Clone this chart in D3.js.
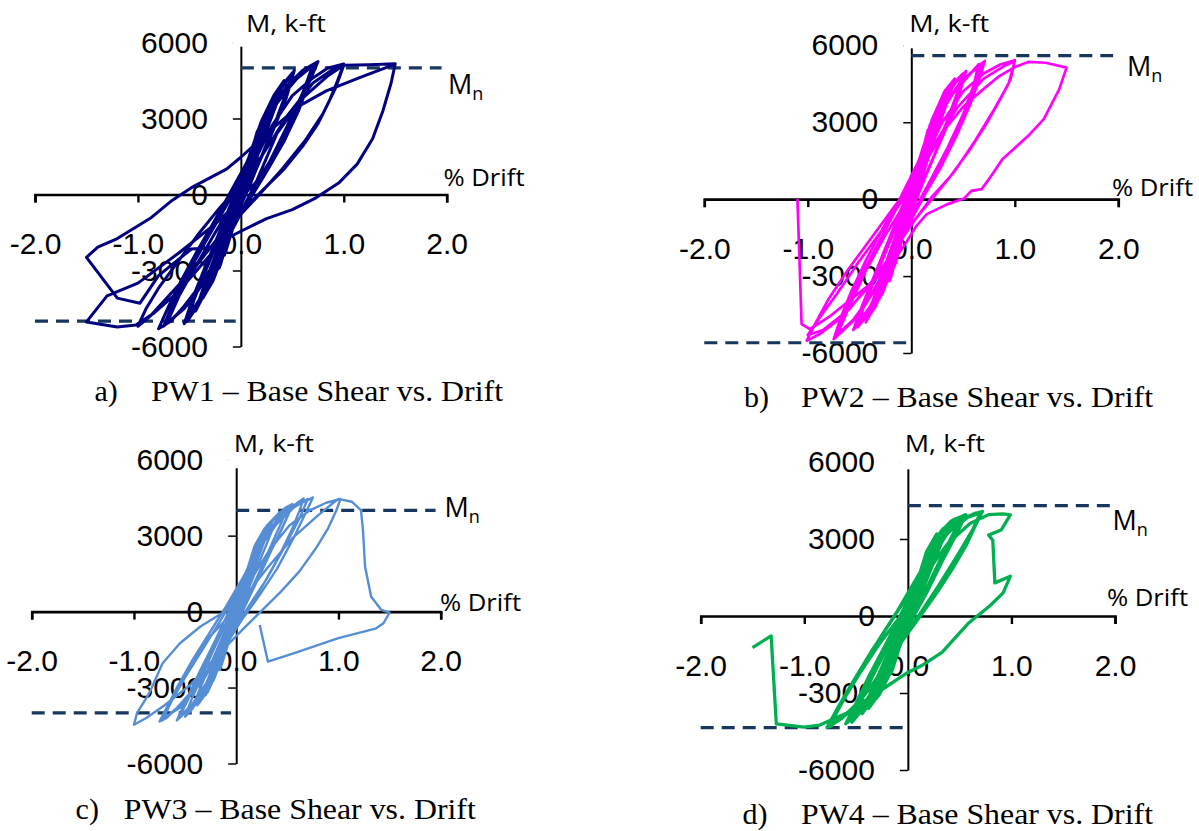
<!DOCTYPE html>
<html>
<head>
<meta charset="utf-8">
<script src="https://cdn.jsdelivr.net/npm/d3@7"></script>
<style>
  body { margin: 0; background: #fff; }
  .tick text { font-family: "Liberation Sans", Arial, sans-serif; font-size: 30px; fill: #000; }
  .lbl { font-family: "Open Sans", sans-serif; font-size: 24px; fill: #000; }
  .cap { font-family: "Liberation Serif", "Times New Roman", serif; font-size: 30px; fill: #000; }
</style>
</head>
<body>
<script>
var width = 1199,
    height = 831;

// ---- data ----
var driftTicks = [-2, -1, 0, 1, 2];
var momentTicks = [-6000, -3000, 0, 3000, 6000];

// nominal moment capacity lines [positive, negative], k-ft
var mnPW1 = [5000, -5000];
var mnPW2 = [5600, -5600];
var mnPW3 = [4000, -4000];
var mnPW4 = [4300, -4350];

var captionLetters = ["a)", "b)", "c)", "d)"];
var captionTexts = [
  "PW1 \u2013 Base Shear vs. Drift",
  "PW2 \u2013 Base Shear vs. Drift",
  "PW3 \u2013 Base Shear vs. Drift",
  "PW4 \u2013 Base Shear vs. Drift"
];

// hysteresis loops, [% drift, moment k-ft]
var pw1 = [
  // +-0.1
  [0,0],[0.05,900],[0.1,1600],[0.06,900],[0,-100],[-0.05,-900],[-0.1,-1600],[-0.06,-900],[0,100],[0.05,1000],[0.1,1700],[0.05,700],[-0.02,-300],[-0.1,-1500],[-0.05,-700],[0.02,300],
  // +-0.15
  [0.08,1300],[0.15,2300],[0.09,1200],[0.01,-100],[-0.08,-1300],[-0.15,-2300],[-0.08,-1200],[0.01,100],[0.09,1500],[0.16,2500],[0.1,1400],[0,-200],[-0.09,-1500],[-0.16,-2400],[-0.09,-1100],[0,100],
  // +-0.25
  [0.1,1600],[0.18,2500],[0.25,3200],[0.2,2300],[0.12,1200],[0.02,-100],[-0.08,-1100],[-0.17,-2300],[-0.25,-3200],[-0.2,-2400],[-0.12,-1300],[-0.02,0],
  [0.08,1200],[0.17,2500],[0.26,3300],[0.19,2100],[0.1,900],[-0.02,-400],[-0.12,-1700],[-0.26,-3300],[-0.18,-2100],[-0.08,-700],
  [0.04,700],[0.15,2200],[0.25,3200],[0.18,1900],[0.06,500],[-0.06,-900],[-0.16,-2200],[-0.25,-3100],[-0.16,-1800],[-0.04,-300],
  // +-0.2
  [0.06,1100],[0.13,2000],[0.2,2800],[0.15,2000],[0.07,900],[-0.03,-400],[-0.12,-1700],[-0.2,-2800],[-0.14,-1900],[-0.05,-600],[0.04,800],[0.12,1900],[0.21,2900],[0.13,1600],[0.03,200],[-0.07,-1100],[-0.21,-2900],[-0.12,-1500],[-0.02,-100],
  // +-0.35
  [0.12,1900],[0.24,3100],[0.35,4000],[0.28,3100],[0.18,1900],[0.05,400],[-0.08,-1300],[-0.22,-2900],[-0.36,-4000],[-0.28,-3000],[-0.16,-1700],[-0.03,-100],
  [0.1,1700],[0.22,3000],[0.34,3900],[0.25,2700],[0.12,1200],[-0.01,-400],[-0.14,-2000],[-0.27,-3400],[-0.37,-4100],[-0.26,-2700],[-0.12,-1100],[0.02,300],
  // +-0.4
  [0.08,1500],[0.2,2900],[0.32,3900],[0.42,4500],[0.34,3500],[0.22,2200],[0.1,800],[-0.04,-700],[-0.16,-2100],[-0.3,-3500],[-0.44,-4600],[-0.35,-3500],[-0.22,-2100],[-0.08,-600],[0.06,900],
  // +-0.5
  [0.05,800],[0.15,2200],[0.28,3500],[0.4,4300],[0.5,4800],[0.43,3900],[0.33,2800],[0.2,1500],[0.07,300],[-0.05,-900],[-0.15,-2100],[-0.3,-3500],[-0.42,-4400],[-0.52,-5000],[-0.45,-4100],[-0.33,-2900],[-0.2,-1600],[-0.07,-300],
  [0.05,900],[0.2,2600],[0.33,3800],[0.45,4500],[0.52,4900],[0.44,3800],[0.3,2400],[0.15,1000],[0.02,-200],[-0.12,-1700],[-0.28,-3300],[-0.42,-4300],[-0.55,-5100],[-0.46,-4000],[-0.32,-2600],[-0.18,-1200],[-0.05,100],
  [0.1,1600],[0.25,3200],[0.4,4300],[0.5,4700],[0.4,3500],[0.25,2000],[0.1,500],[-0.05,-900],[-0.2,-2500],[-0.38,-4000],[-0.52,-4900],[-0.42,-3700],[-0.28,-2300],[-0.12,-800],
  // +-0.75
  [0.02,500],[0.15,2000],[0.3,3300],[0.45,4300],[0.6,4900],[0.75,5250],[0.66,4400],[0.56,3300],[0.42,2100],[0.25,900],[0.1,-100],[-0.05,-1100],[-0.2,-2300],[-0.38,-3500],[-0.55,-4400],[-0.68,-5000],[-0.8,-5300],[-0.7,-4400],[-0.58,-3400],[-0.42,-2200],[-0.25,-1000],[-0.1,100],
  [0.05,1200],[0.2,2600],[0.38,3800],[0.55,4600],[0.72,5150],[0.64,4200],[0.52,3100],[0.36,1800],[0.18,500],[0.02,-600],[-0.15,-1900],[-0.35,-3400],[-0.55,-4500],[-0.75,-5200],[-0.65,-4200],[-0.5,-3000],[-0.32,-1700],[-0.15,-500],
  [0,600],[0.18,2300],[0.35,3600],[0.52,4500],[0.7,5100],[0.6,4000],[0.45,2700],[0.28,1300],[0.1,100],[-0.1,-1500],[-0.3,-3100],[-0.5,-4300],[-0.72,-5100],[-0.6,-4000],[-0.42,-2700],[-0.22,-1300],
  // +-1.0
  [-0.05,-200],[0.12,1200],[0.3,2700],[0.5,3900],[0.7,4600],[0.85,5000],[1.0,5150],[0.94,4500],[0.86,3700],[0.75,2800],[0.6,1900],[0.42,1000],[0.22,200],[0.02,-600],[-0.2,-1600],[-0.45,-2900],[-0.7,-4000],[-0.88,-4800],[-1.0,-5200],[-0.92,-4500],[-0.8,-3700],[-0.62,-2700],[-0.42,-1600],[-0.2,-500],
  [0,400],[0.2,1500],[0.45,3100],[0.7,4400],[0.9,4950],[1.0,5100],[0.92,4200],[0.8,3200],[0.62,2100],[0.4,1000],[0.18,0],[-0.05,-1000],[-0.3,-2400],[-0.6,-3800],[-0.85,-4700],[-1.02,-5150],
  // -1.5 then +1.5
  [-1.2,-5230],[-1.5,-5030],[-1.3,-4000],[-1.0,-3500],[-0.6,-2300],[-0.2,-1000],[0.15,500],[0.35,2400],[0.6,3800],[0.85,4700],[1.0,5100],[1.25,5120],[1.5,5160],
  [1.46,4400],[1.38,3300],[1.28,2200],[1.13,1200],[0.95,450],[0.73,-130],[0.5,-600],[0.25,-950],[0,-1450],[-0.31,-2100],[-0.48,-2150],[-0.8,-3200],[-0.98,-4290],[-1.2,-4090],[-1.5,-2480],
  [-1.39,-2080],[-1.2,-1740],[-0.88,-940],[-0.68,-270],[-0.48,270],[-0.14,1000],[0,1470],[0.33,2680],[0.56,3480],[0.83,4090],[1.16,4620],[1.5,5150]
];

var pw2 = [
  [0,0],[0.05,1000],[0.1,1700],[0.05,900],[-0.01,-100],[-0.06,-1000],[-0.1,-1700],[-0.05,-800],[0.01,200],[0.06,1100],[0.1,1800],[0.04,600],[-0.03,-500],[-0.1,-1600],[-0.04,-600],[0.03,400],
  [0.08,1400],[0.15,2500],[0.09,1400],[0.01,-100],[-0.08,-1400],[-0.15,-2500],[-0.08,-1300],[0.01,100],[0.09,1600],[0.16,2700],[0.1,1500],[0,-200],[-0.09,-1600],[-0.16,-2600],[-0.09,-1200],[0,100],
  [0.12,1900],[0.2,2900],[0.27,3600],[0.21,2700],[0.12,1500],[0.02,100],[-0.08,-1200],[-0.18,-2600],[-0.27,-3600],[-0.21,-2700],[-0.12,-1500],[-0.02,-100],
  [0.09,1500],[0.18,2900],[0.28,3700],[0.2,2500],[0.1,1100],[-0.02,-500],[-0.12,-1900],[-0.28,-3700],[-0.2,-2400],[-0.09,-900],
  [0.04,800],[0.16,2500],[0.27,3500],[0.18,2100],[0.06,500],[-0.06,-1100],[-0.17,-2500],[-0.27,-3500],[-0.17,-2000],[-0.04,-300],
  [0.06,1200],[0.13,2200],[0.2,3100],[0.15,2200],[0.07,1000],[-0.03,-400],[-0.12,-1900],[-0.2,-3100],[-0.14,-2100],[-0.05,-700],[0.04,900],[0.12,2100],[0.21,3200],[0.13,1800],[0.03,200],[-0.07,-1200],[-0.21,-3200],[-0.12,-1700],[-0.02,-100],
  [0.12,2000],[0.24,3400],[0.35,4300],[0.28,3400],[0.18,2100],[0.05,400],[-0.08,-1400],[-0.22,-3100],[-0.36,-4300],[-0.28,-3200],[-0.16,-1800],[-0.03,-100],
  [0.1,1800],[0.22,3200],[0.34,4200],[0.25,2900],[0.12,1300],[-0.01,-400],[-0.14,-2100],[-0.27,-3600],[-0.38,-4400],[-0.26,-2900],[-0.12,-1200],[0.02,300],
  [0.08,1600],[0.2,3100],[0.32,4200],[0.42,4700],[0.34,3700],[0.22,2300],[0.1,800],[-0.04,-800],[-0.16,-2300],[-0.3,-3800],[-0.44,-4800],[-0.35,-3700],[-0.22,-2200],[-0.08,-600],[0.06,1000],
  [0.06,1000],[0.16,2500],[0.28,3800],[0.4,4500],[0.5,4900],[0.44,4100],[0.34,3000],[0.22,1700],[0.08,400],[-0.05,-900],[-0.16,-2300],[-0.3,-3700],[-0.42,-4500],[-0.52,-5000],[-0.46,-4200],[-0.35,-3100],[-0.22,-1800],[-0.08,-400],
  [0.06,1100],[0.2,2800],[0.34,4100],[0.46,4700],[0.53,5000],[0.45,3900],[0.32,2600],[0.17,1200],[0.03,-100],[-0.12,-1700],[-0.28,-3400],[-0.43,-4500],[-0.56,-5100],[-0.47,-4100],[-0.33,-2700],[-0.19,-1300],[-0.05,100],
  [0.11,1800],[0.26,3400],[0.42,4500],[0.52,4900],[0.42,3700],[0.27,2200],[0.11,600],[-0.05,-1000],[-0.22,-2700],[-0.4,-4200],[-0.55,-5000],[-0.44,-3900],[-0.29,-2400],[-0.13,-900],
  [0.02,600],[0.16,2300],[0.32,3700],[0.48,4600],[0.6,5000],[0.71,5390],[0.66,4700],[0.57,3700],[0.44,2500],[0.28,1200],[0.12,100],[-0.04,-1100],[-0.22,-2500],[-0.4,-3800],[-0.56,-4700],[-0.68,-5200],[-0.75,-5460],[-0.68,-4600],[-0.58,-3600],[-0.44,-2400],[-0.27,-1100],[-0.1,100],
  [0.06,1400],[0.22,2900],[0.4,4100],[0.55,4800],[0.65,5260],[0.6,4400],[0.5,3300],[0.35,2000],[0.18,700],[0.02,-500],[-0.16,-2000],[-0.36,-3600],[-0.56,-4700],[-0.72,-5300],[-0.63,-4300],[-0.5,-3100],[-0.33,-1800],[-0.16,-500],
  [0,700],[0.18,2500],[0.36,3900],[0.54,4800],[0.68,5300],[0.6,4200],[0.46,2900],[0.3,1500],[0.12,200],[-0.08,-1400],[-0.3,-3200],[-0.52,-4600],[-0.72,-5350],[-0.6,-4200],[-0.44,-2800],[-0.25,-1400],
  [-0.05,-100],[0.12,1500],[0.3,3000],[0.5,4200],[0.7,4900],[0.86,5250],[1.0,5420],[0.96,4680],[0.86,3900],[0.72,2900],[0.56,1900],[0.38,900],[0.2,100],[0.02,-900],[-0.2,-2200],[-0.45,-3600],[-0.7,-4700],[-0.88,-5250],[-1.01,-5520],[-0.92,-4800],[-0.8,-3900],[-0.62,-2800],[-0.42,-1700],[-0.22,-600],
  [-0.02,500],[0.2,2000],[0.45,3600],[0.7,4700],[0.9,5200],[1.0,5380],[0.94,4500],[0.8,3500],[0.62,2300],[0.42,1100],[0.2,0],[-0.05,-1200],[-0.3,-2800],[-0.6,-4300],[-0.85,-5100],[-1.0,-5300],[-0.9,-4700],[-0.72,-3700],[-0.5,-2400],[-0.28,-1200],[-0.08,0],
  [0.12,1300],[0.3,2600],[0.5,3600],[0.7,4300],[0.85,4800],[1.0,5150],[1.13,5350],[1.3,5320],[1.5,5130],[1.43,4290],[1.28,3120],[1.13,2470],[0.88,1560],[0.75,780],[0.68,390],[0.58,325],[0.51,25],[0.35,-195],[0.15,-585],[0.05,-1040],[-0.05,-1690],[-0.18,-2470],[-0.38,-3250],[-0.58,-3900],[-0.78,-4550],[-0.98,-5070],[-1.06,-4870],[-1.1,0]
];

var pw3 = [
  [0,0],[0.05,800],[0.1,1500],[0.05,800],[-0.01,-100],[-0.06,-900],[-0.1,-1500],[-0.05,-700],[0.01,200],[0.06,1000],[0.1,1600],[0.04,500],[-0.03,-500],[-0.1,-1500],[-0.04,-500],[0.03,400],
  [0.08,1300],[0.15,2200],[0.09,1200],[0.01,-100],[-0.08,-1300],[-0.15,-2200],[-0.08,-1100],[0.01,100],[0.09,1400],[0.16,2300],[0.1,1300],[0,-200],[-0.09,-1400],[-0.16,-2300],[-0.09,-1100],[0,100],
  [0.12,1800],[0.2,2600],[0.27,3200],[0.21,2400],[0.12,1300],[0.02,0],[-0.08,-1100],[-0.18,-2300],[-0.28,-3200],[-0.21,-2400],[-0.12,-1300],[-0.02,0],
  [0.09,1400],[0.18,2600],[0.28,3300],[0.2,2200],[0.1,1000],[-0.02,-400],[-0.13,-1800],[-0.3,-3300],[-0.2,-2100],[-0.09,-800],
  [0.04,700],[0.16,2200],[0.27,3100],[0.18,1900],[0.06,400],[-0.06,-1000],[-0.18,-2300],[-0.3,-3200],[-0.18,-1800],[-0.04,-200],
  [0.06,1000],[0.13,1800],[0.2,2500],[0.15,1800],[0.07,800],[-0.03,-400],[-0.12,-1500],[-0.2,-2500],[-0.14,-1700],[-0.05,-500],[0.04,700],[0.12,1700],[0.21,2600],[0.13,1400],[0.03,200],[-0.07,-1000],[-0.21,-2600],[-0.12,-1300],[-0.02,-100],
  [0.12,1800],[0.24,2900],[0.35,3600],[0.28,2900],[0.18,1800],[0.05,400],[-0.08,-1200],[-0.22,-2700],[-0.36,-3600],[-0.28,-2800],[-0.16,-1600],[-0.03,-100],
  [0.1,1600],[0.22,2800],[0.34,3500],[0.25,2500],[0.12,1100],[-0.01,-400],[-0.14,-1900],[-0.27,-3100],[-0.38,-3700],[-0.26,-2500],[-0.12,-1000],[0.02,300],
  [0.08,1300],[0.2,2600],[0.32,3400],[0.42,3900],[0.34,3100],[0.22,1900],[0.1,700],[-0.04,-600],[-0.16,-1900],[-0.3,-3100],[-0.44,-3900],[-0.35,-3000],[-0.22,-1800],[-0.08,-500],[0.06,800],
  [0.06,900],[0.18,2400],[0.3,3400],[0.42,3900],[0.5,4120],[0.44,3500],[0.34,2600],[0.22,1500],[0.08,300],[-0.06,-900],[-0.18,-2100],[-0.32,-3200],[-0.44,-3900],[-0.5,-4150],[-0.44,-3500],[-0.34,-2600],[-0.22,-1500],[-0.08,-300],
  [0.06,1000],[0.22,2700],[0.36,3600],[0.48,4100],[0.55,4250],[0.46,3400],[0.33,2300],[0.18,1000],[0.03,-200],[-0.14,-1600],[-0.3,-2900],[-0.45,-3800],[-0.58,-4300],[-0.49,-3500],[-0.36,-2400],[-0.2,-1100],[-0.05,200],
  [0.12,1700],[0.28,3000],[0.45,3900],[0.55,4200],[0.44,3200],[0.28,1900],[0.12,500],[-0.05,-900],[-0.24,-2500],[-0.42,-3600],[-0.56,-4200],[-0.45,-3300],[-0.3,-2100],[-0.13,-700],
  [0.03,500],[0.18,2100],[0.35,3300],[0.5,4000],[0.6,4300],[0.66,4470],[0.62,4000],[0.54,3200],[0.42,2200],[0.27,1100],[0.12,100],[-0.05,-1000],[-0.23,-2100],[-0.42,-3100],[-0.58,-3800],[-0.68,-4200],[-0.75,-4340],[-0.68,-3800],[-0.58,-3000],[-0.44,-2000],[-0.27,-900],[-0.1,200],
  [0.06,1300],[0.24,2600],[0.42,3600],[0.58,4200],[0.7,4400],[0.75,4510],[0.68,3900],[0.56,2900],[0.4,1700],[0.22,600],[0.04,-400],[-0.16,-1600],[-0.38,-2900],[-0.58,-3800],[-0.72,-4300],[-0.64,-3600],[-0.5,-2600],[-0.33,-1500],[-0.16,-400],
  [0,700],[0.18,2200],[0.38,3400],[0.56,4100],[0.7,4450],[0.62,3700],[0.48,2600],[0.3,1300],[0.12,200],[-0.1,-1200],[-0.32,-2700],[-0.55,-3800],[-0.73,-4250],[-0.62,-3400],[-0.45,-2200],[-0.26,-1000],
  [-0.05,-100],[0.12,1100],[0.32,2400],[0.52,3400],[0.72,4000],[0.88,4300],[1.02,4450],[0.98,4000],[0.9,3300],[0.78,2500],[0.62,1600],[0.44,800],[0.24,0],[0.04,-800],[-0.2,-1800],[-0.45,-2900],[-0.7,-3700],[-0.88,-4200],[-1.0,-4470],
  [-0.97,-4010],[-0.85,-3220],[-0.72,-2040],[-0.55,-1250],[-0.35,-590],[-0.14,-65],[0.06,460],
  [0.3,1700],[0.55,2900],[0.8,3800],[0.95,4300],[1.0,4450],[1.13,4340],[1.22,4010],[1.24,3220],[1.26,1780],[1.32,590],[1.42,65],[1.5,-40],[1.44,-460],[1.37,-660],[1.0,-1050],[0.56,-1650],[0.31,-1975],[0.23,-525]
];

var pw4 = [
  [0,0],[0.05,800],[0.1,1400],[0.05,700],[-0.01,-100],[-0.06,-900],[-0.1,-1400],[-0.05,-700],[0.01,200],[0.06,900],[0.1,1500],[0.04,500],[-0.03,-500],[-0.1,-1400],[-0.04,-500],[0.03,400],
  [0.08,1200],[0.15,2100],[0.09,1100],[0.01,-100],[-0.08,-1200],[-0.15,-2100],[-0.08,-1100],[0.01,100],[0.09,1300],[0.16,2200],[0.1,1200],[0,-200],[-0.09,-1300],[-0.16,-2200],[-0.09,-1000],[0,100],
  [0.12,1700],[0.2,2500],[0.27,3100],[0.21,2300],[0.12,1200],[0.02,0],[-0.08,-1100],[-0.18,-2300],[-0.28,-3100],[-0.21,-2300],[-0.12,-1200],[-0.02,0],
  [0.09,1300],[0.18,2500],[0.28,3200],[0.2,2100],[0.1,900],[-0.02,-400],[-0.13,-1700],[-0.3,-3200],[-0.2,-2000],[-0.09,-700],
  [0.04,700],[0.16,2100],[0.27,3000],[0.18,1800],[0.06,400],[-0.06,-1000],[-0.18,-2200],[-0.3,-3100],[-0.18,-1700],[-0.04,-200],
  [0.06,1000],[0.13,1700],[0.2,2400],[0.15,1700],[0.07,800],[-0.03,-400],[-0.12,-1500],[-0.2,-2400],[-0.14,-1600],[-0.05,-500],[0.04,700],[0.12,1600],[0.21,2500],[0.13,1400],[0.03,200],[-0.07,-1000],[-0.21,-2500],[-0.12,-1300],[-0.02,-100],
  [0.12,1700],[0.24,2800],[0.35,3400],[0.28,2800],[0.18,1700],[0.05,400],[-0.08,-1200],[-0.22,-2600],[-0.36,-3500],[-0.28,-2700],[-0.16,-1500],[-0.03,-100],
  [0.1,1500],[0.22,2700],[0.34,3400],[0.25,2400],[0.12,1000],[-0.01,-400],[-0.14,-1800],[-0.27,-3000],[-0.38,-3600],[-0.26,-2400],[-0.12,-1000],[0.02,300],
  [0.08,1300],[0.2,2500],[0.32,3300],[0.42,3700],[0.34,3000],[0.22,1800],[0.1,600],[-0.04,-600],[-0.16,-1900],[-0.3,-3000],[-0.44,-3800],[-0.35,-2900],[-0.22,-1700],[-0.08,-500],[0.06,800],
  [0.06,900],[0.18,2300],[0.32,3300],[0.44,3750],[0.52,3880],[0.45,3300],[0.35,2500],[0.22,1400],[0.08,200],[-0.06,-900],[-0.2,-2100],[-0.35,-3200],[-0.47,-3800],[-0.54,-4140],[-0.47,-3400],[-0.36,-2500],[-0.22,-1400],[-0.08,-200],
  [0.06,1000],[0.22,2500],[0.38,3500],[0.5,3850],[0.56,3950],[0.47,3200],[0.34,2200],[0.18,900],[0.03,-200],[-0.14,-1600],[-0.32,-2900],[-0.48,-3800],[-0.6,-4200],[-0.5,-3400],[-0.37,-2300],[-0.2,-1000],[-0.05,200],
  [0.12,1600],[0.3,2900],[0.46,3700],[0.55,3900],[0.44,3100],[0.28,1800],[0.12,500],[-0.05,-900],[-0.25,-2400],[-0.44,-3500],[-0.58,-4100],[-0.46,-3200],[-0.3,-2000],[-0.13,-700],
  [0.03,500],[0.2,2100],[0.38,3200],[0.54,3800],[0.65,4000],[0.72,4070],[0.66,3600],[0.57,2800],[0.44,1900],[0.28,900],[0.12,0],[-0.06,-1000],[-0.26,-2200],[-0.46,-3300],[-0.62,-3900],[-0.75,-4300],[-0.68,-3700],[-0.57,-2900],[-0.43,-1900],[-0.26,-800],[-0.1,200],
  [0.06,1300],[0.25,2600],[0.44,3500],[0.6,3900],[0.7,4000],[0.63,3400],[0.5,2500],[0.34,1400],[0.16,300],[-0.02,-700],[-0.22,-2000],[-0.44,-3200],[-0.64,-4000],[-0.78,-4350],[-0.68,-3600],[-0.52,-2500],[-0.34,-1300],[-0.16,-200],
  [0,800],[0.2,2300],[0.4,3300],[0.58,3850],[0.7,4020],[0.62,3300],[0.47,2300],[0.3,1200],[0.12,100],[-0.1,-1200],[-0.34,-2700],[-0.58,-3800],[-0.76,-4300],[-0.64,-3400],[-0.46,-2200],[-0.26,-1000],
  [-0.05,100],[0.15,1500],[0.38,2800],[0.6,3600],[0.78,3950],[0.92,3980],[0.99,3940],[0.9,3350],[0.78,3150],[0.82,2950],[0.84,1290],[0.99,1550],[0.92,900],[0.79,390],[0.59,-260],[0.33,-1420],[0.13,-1940],[0,-2200],
  [-0.3,-3000],[-0.6,-3800],[-0.85,-4250],[-1.0,-4330],[-1.27,-4200],[-1.32,-775],[-1.5,-1230]
];

// ---- layout ----
var panels = [
  { data: pw1, mn: mnPW1, color: "#000080", lw: 3, xr: [35, 446.7], yr: [42.5, 346.5], axTop: 46.7,
    mk: [246, 32], drift: [443.5, 186], mnl: [448, 94], capA: [94.5, 401], capB: [151, 401], cap: 0 },
  { data: pw2, mn: mnPW2, color: "#ff00ff", lw: 2.7, xr: [704.3, 1118.3], yr: [45.3, 353], axTop: 48.3,
    mk: [909.2, 32], drift: [1112, 196], mnl: [1127, 75.5], capA: [744, 407], capB: [801, 407], cap: 1 },
  { data: pw3, mn: mnPW3, color: "#558ed5", lw: 2.4, xr: [31.7, 440.7], yr: [459.7, 763.5], axTop: 468.3,
    mk: [233.8, 452], drift: [440, 611], mnl: [444.5, 517], capA: [75.6, 819], capB: [123.8, 819], cap: 2 },
  { data: pw4, mn: mnPW4, color: "#00b050", lw: 3.3, xr: [700.7, 1115], yr: [462, 770], axTop: 469.3,
    mk: [904.8, 452], drift: [1107, 606], mnl: [1112.5, 530], capA: [742.5, 824], capB: [801, 824], cap: 3 }
];

// plain hyphen for negatives, like the original
var fmtY = function(d) { return d3.format("d")(d).replace("\u2212", "-"); };
var fmtX = function(d) { return d3.format(".1f")(d).replace("\u2212", "-"); };

var svg = d3.select("body").append("svg")
    .attr("width", width)
    .attr("height", height);

svg.append("rect")
    .attr("width", width)
    .attr("height", height)
    .attr("fill", "#fff");

panels.forEach(function(p) {
  var x = d3.scaleLinear().domain([-2, 2]).range(p.xr);
  var y = d3.scaleLinear().domain([6000, -6000]).range(p.yr);
  var g = svg.append("g");

  // y axis (vertical, at drift 0)
  var yAxis = g.append("g")
      .attr("transform", "translate(" + x(0) + ",0)")
      .call(d3.axisLeft(y).tickValues(momentTicks).tickSize(8).tickSizeOuter(0)
            .tickPadding(25).tickFormat(fmtY));
  yAxis.select(".domain").attr("stroke-width", 2);
  yAxis.selectAll(".tick line").attr("stroke-width", 1.5);

  // x axis (horizontal, at moment 0)
  var xAxis = g.append("g")
      .attr("transform", "translate(0," + y(0) + ")")
      .call(d3.axisBottom(x).tickValues(driftTicks).tickSize(8).tickSizeOuter(8)
            .tickFormat(fmtX));
  xAxis.select(".domain").attr("stroke-width", 2.6);
  xAxis.selectAll(".tick line").attr("stroke-width", 2.4);
  xAxis.selectAll(".tick text").attr("y", 49).attr("dy", "0.35em");

  // white box behind the axis title covers the axis top
  g.append("rect")
      .attr("x", x(0) - 8)
      .attr("y", p.axTop - 45)
      .attr("width", 90)
      .attr("height", 45)
      .attr("fill", "#fff");

  // nominal capacity lines
  var dash = d3.line().x(function(d) { return x(d[0]); }).y(function(d) { return y(d[1]); });
  g.append("path")
      .datum([[0, p.mn[0]], [1.95, p.mn[0]]])
      .attr("d", dash)
      .attr("fill", "none").attr("stroke", "#17375e")
      .attr("stroke-width", 3.2).attr("stroke-dasharray", "13,8");
  g.append("path")
      .datum([[-2, p.mn[1]], [-0.05, p.mn[1]]])
      .attr("d", dash)
      .attr("fill", "none").attr("stroke", "#17375e")
      .attr("stroke-width", 3.2).attr("stroke-dasharray", "13,8");

  // hysteresis curve
  var line = d3.line()
      .x(function(d) { return x(d[0]); })
      .y(function(d) { return y(d[1]); });
  g.append("path")
      .datum(p.data)
      .attr("d", line)
      .attr("fill", "none")
      .attr("stroke", p.color)
      .attr("stroke-width", p.lw)
      .attr("stroke-linejoin", "round");

  // labels
  g.append("text").attr("class", "lbl")
      .attr("x", p.mk[0]).attr("y", p.mk[1])
      .attr("textLength", 80).attr("lengthAdjust", "spacingAndGlyphs")
      .text("M, k-ft");
  g.append("text").attr("class", "lbl")
      .attr("x", p.drift[0]).attr("y", p.drift[1])
      .attr("textLength", 81).attr("lengthAdjust", "spacingAndGlyphs")
      .text("% Drift");
  var mt = g.append("text").attr("class", "lbl")
      .attr("x", p.mnl[0]).attr("y", p.mnl[1]);
  mt.append("tspan").style("font-size", "27px").text("M");
  mt.append("tspan").attr("dy", 6).style("font-size", "18px").text("n");

  g.append("text").attr("class", "cap")
      .attr("x", p.capA[0]).attr("y", p.capA[1])
      .text(captionLetters[p.cap]);
  g.append("text").attr("class", "cap")
      .attr("x", p.capB[0]).attr("y", p.capB[1])
      .attr("textLength", 352).attr("lengthAdjust", "spacingAndGlyphs")
      .text(captionTexts[p.cap]);
});
</script>
</body>
</html>
